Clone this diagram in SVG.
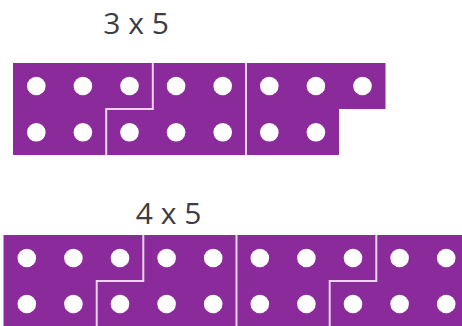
<svg xmlns="http://www.w3.org/2000/svg" width="462" height="326" viewBox="0 0 462 326">
<style>
.lbl{font-family:"Open Sans","Liberation Sans",sans-serif;font-size:30px;fill:#3d3d45;text-anchor:middle}
.pc{fill:#8b2a9b}
.dot{fill:#ffffff}
.sep{fill:none;stroke:#ecd3ef;stroke-width:2}
</style>
<rect width="462" height="326" fill="#ffffff"/>
<text class="lbl" x="136" y="33.5">3 x 5</text>
<text class="lbl" x="168.5" y="223.5">4 x 5</text>
<g id="top-piece-1">
<path class="pc" d="M13 63H152.8V109H106.2V155H13Z"/>
<circle class="dot" cx="36.3" cy="86" r="9.3"/><circle class="dot" cx="82.9" cy="86" r="9.3"/><circle class="dot" cx="129.5" cy="86" r="9.3"/>
<circle class="dot" cx="36.3" cy="132.3" r="9.3"/><circle class="dot" cx="82.9" cy="132.3" r="9.3"/>
</g>
<g id="top-piece-2">
<path class="pc" d="M152.8 63H246V155H106.2V109H152.8Z"/>
<circle class="dot" cx="176.1" cy="86" r="9.3"/><circle class="dot" cx="222.7" cy="86" r="9.3"/>
<circle class="dot" cx="129.5" cy="132.3" r="9.3"/><circle class="dot" cx="176.1" cy="132.3" r="9.3"/><circle class="dot" cx="222.7" cy="132.3" r="9.3"/>
</g>
<g id="top-piece-3">
<path class="pc" d="M246 63H385.5V109H339V155H246Z"/>
<circle class="dot" cx="269.3" cy="86" r="9.3"/><circle class="dot" cx="315.9" cy="86" r="9.3"/><circle class="dot" cx="362.5" cy="86" r="9.3"/>
<circle class="dot" cx="269.3" cy="132.3" r="9.3"/><circle class="dot" cx="315.9" cy="132.3" r="9.3"/>
</g>
<g id="bottom-piece-1">
<path class="pc" d="M3.5 235H143.3V281H96.7V326H3.5Z"/>
<circle class="dot" cx="26.8" cy="258" r="9.3"/><circle class="dot" cx="73.4" cy="258" r="9.3"/><circle class="dot" cx="120" cy="258" r="9.3"/>
<circle class="dot" cx="26.8" cy="304" r="9.3"/><circle class="dot" cx="73.4" cy="304" r="9.3"/>
</g>
<g id="bottom-piece-2">
<path class="pc" d="M143.3 235H236.5V326H96.7V281H143.3Z"/>
<circle class="dot" cx="166.6" cy="258" r="9.3"/><circle class="dot" cx="213.2" cy="258" r="9.3"/>
<circle class="dot" cx="120" cy="304" r="9.3"/><circle class="dot" cx="166.6" cy="304" r="9.3"/><circle class="dot" cx="213.2" cy="304" r="9.3"/>
</g>
<g id="bottom-piece-3">
<path class="pc" d="M236.5 235H376.3V281H329.7V326H236.5Z"/>
<circle class="dot" cx="259.8" cy="258" r="9.3"/><circle class="dot" cx="306.4" cy="258" r="9.3"/><circle class="dot" cx="353" cy="258" r="9.3"/>
<circle class="dot" cx="259.8" cy="304" r="9.3"/><circle class="dot" cx="306.4" cy="304" r="9.3"/>
</g>
<g id="bottom-piece-4">
<path class="pc" d="M376.3 235H462V326H329.7V281H376.3Z"/>
<circle class="dot" cx="399.6" cy="258" r="9.3"/><circle class="dot" cx="446.2" cy="258" r="9.3"/>
<circle class="dot" cx="353" cy="304" r="9.3"/><circle class="dot" cx="399.6" cy="304" r="9.3"/><circle class="dot" cx="446.2" cy="304" r="9.3"/>
</g>
<g id="separators">
<path class="sep" d="M152.8 63V109H106.2V155"/>
<path class="sep" d="M246 63V155"/>
<path class="sep" d="M143.3 235V281H96.7V326"/>
<path class="sep" d="M236.5 235V326"/>
<path class="sep" d="M376.3 235V281H329.7V326"/>
</g>
</svg>
